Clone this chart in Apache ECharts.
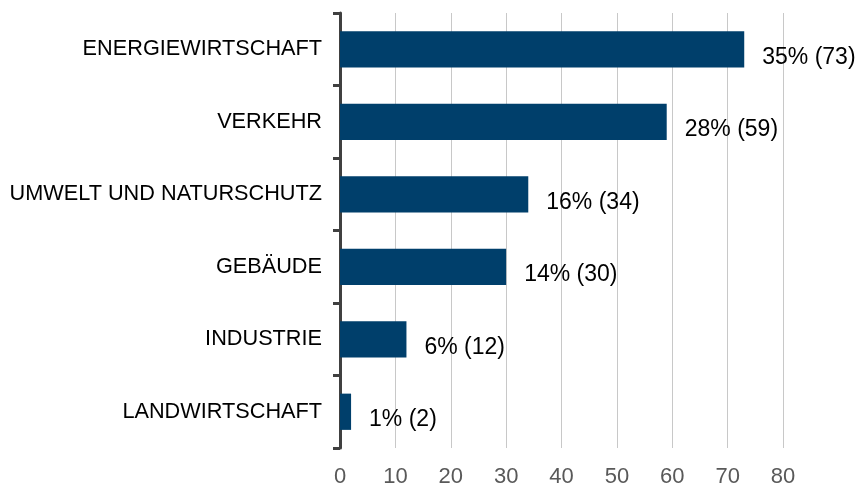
<!DOCTYPE html>
<html>
<head>
<meta charset="utf-8">
<script src="https://cdn.jsdelivr.net/npm/echarts@6/dist/echarts.min.js"></script>
<style>html,body{margin:0;padding:0;background:#fff}#c{width:858px;height:485px}</style>
</head>
<body>
<div id="c"></div>
<script>
const categories = ["ENERGIEWIRTSCHAFT","VERKEHR","UMWELT UND NATURSCHUTZ","GEBÄUDE","INDUSTRIE","LANDWIRTSCHAFT"];
const values = [73, 59, 34, 30, 12, 2];
const percents = ["35%","28%","16%","14%","6%","1%"];
const xTicks = [0,10,20,30,40,50,60,70,80];

const chart = echarts.init(document.getElementById('c'), null, {renderer:'canvas'});
chart.setOption({
  animation:false,
  grid:{left:340, right:75, top:13, bottom:37, containLabel:false, outerBoundsMode:'none'},
  xAxis:{
    type:'value', min:xTicks[0], max:xTicks[xTicks.length-1], interval:10,
    axisLine:{show:false}, axisTick:{show:false},
    axisLabel:{fontFamily:'Liberation Sans, Arial', fontSize:22, color:'#595959', margin:18},
    splitLine:{lineStyle:{color:'#c8c8c8', width:1}}
  },
  yAxis:{
    type:'category', data:categories, inverse:true,
    axisLine:{lineStyle:{color:'#404040', width:3}},
    axisTick:{show:true, length:7, lineStyle:{color:'#404040', width:3}},
    axisLabel:{fontFamily:'Liberation Sans, Arial', fontSize:21.7, color:'#000', margin:18}
  },
  series:[{
    type:'bar', data:values, barWidth:'50%',
    itemStyle:{color:'#003f6b'},
    label:{show:true, position:'right', distance:18, offset:[0,8],
      fontFamily:'Liberation Sans, Arial', fontSize:23, color:'#000',
      formatter:p=>percents[p.dataIndex]+' ('+values[p.dataIndex]+')'}
  }]
});
</script>
</body>
</html>
